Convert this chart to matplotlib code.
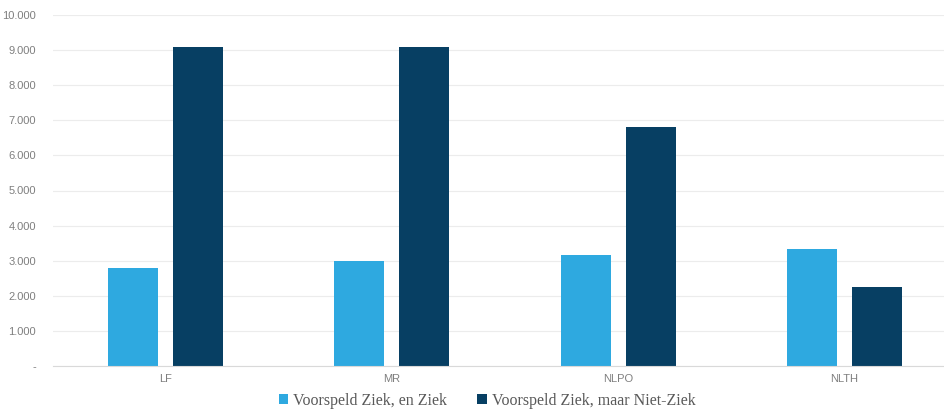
import numpy as np
from matplotlib import pyplot as plt
from matplotlib.ticker import FuncFormatter

categories = ["LF", "MR", "NLPO", "NLTH"]
ziek = [2800, 2980, 3150, 3330]
niet_ziek = [9100, 9100, 6820, 2260]
labels = ["Voorspeld Ziek, en Ziek", "Voorspeld Ziek, maar Niet-Ziek"]

LIGHT = "#2EA9E0"
DARK = "#073F63"

plt.rcParams["font.family"] = ["Liberation Sans", "DejaVu Sans"]

fig = plt.figure(figsize=(9.44, 4.12), dpi=100)
ax = fig.add_axes([52.5 / 944, 46 / 412, 905 / 944, 351 / 412])

x = np.arange(len(categories))
w = 0.221
ax.bar(x - 0.144, ziek, w, color=LIGHT, label=labels[0], zorder=2)
ax.bar(x + 0.144, niet_ziek, w, color=DARK, label=labels[1], zorder=2)

ax.set_xlim(-0.5, len(categories) - 0.5)
ax.set_ylim(0, 10000)
ax.set_yticks(range(0, 10001, 1000))


def fmt(v, pos):
    if v == 0:
        return "-"
    return f"{int(v):,}".replace(",", ".")


ax.yaxis.set_major_formatter(FuncFormatter(fmt))
ax.set_xticks(x)
ax.set_xticklabels(categories)
ax.tick_params(length=0, labelsize=8, colors="#7f7f7f")
ax.tick_params(axis="y", pad=12)
ax.tick_params(axis="x", pad=6)
ax.grid(axis="y", color="#ececec", linewidth=0.8, zorder=0)
for s in ["top", "right", "left"]:
    ax.spines[s].set_visible(False)
ax.spines["bottom"].set_color("#d9d9d9")
ax.spines["bottom"].set_linewidth(0.8)

fig.legend(loc="center", bbox_to_anchor=(487 / 944, 1 - 401 / 412), ncol=2,
           frameon=False, handlelength=0.6, handleheight=0.6, handletextpad=0.3,
           columnspacing=1.9,
           prop={"family": "Liberation Serif", "size": 11.5}, labelcolor="#595959")

fig.savefig("out.png", dpi=100)
